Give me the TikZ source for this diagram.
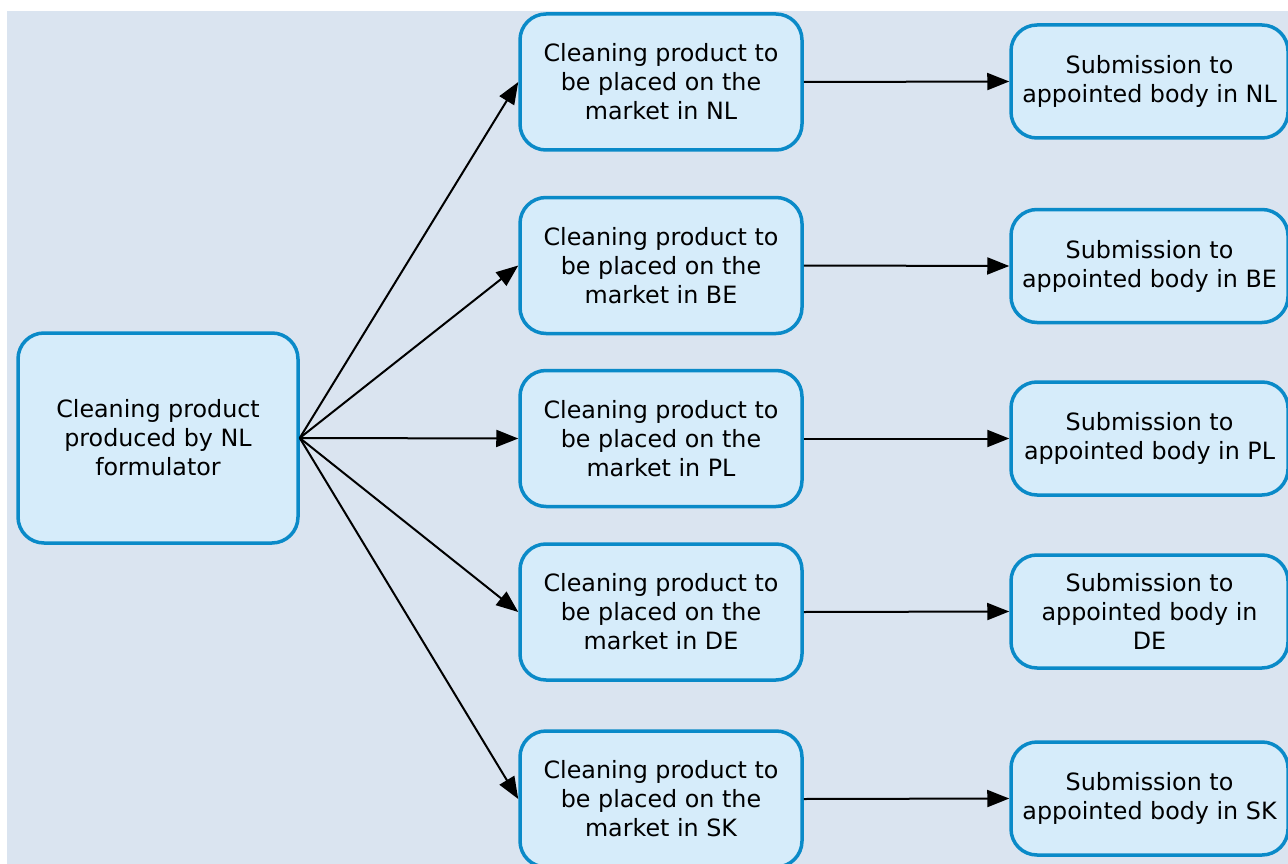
\documentclass[tikz,border=0pt]{standalone}
\usepackage{fontspec}
\setmainfont{DejaVu Sans}
\usetikzlibrary{arrows.meta}
\definecolor{bgc}{HTML}{DAE4F0}
\definecolor{boxfill}{HTML}{D6ECFA}
\definecolor{boxline}{HTML}{0A8AC8}
\begin{document}
\begin{tikzpicture}[x=1pt,y=-1pt,
  box/.style={draw=boxline, fill=boxfill, line width=3.5pt, rounded corners=26pt,
    align=center, inner sep=0pt, font=\fontsize{23.8}{29}\selectfont, text=black},
  midbox/.style={box, minimum width=282pt, minimum height=136pt},
  rbox/.style={box, minimum width=277pt, minimum height=113pt},
  conn/.style={-{Triangle[length=22pt,width=17pt]}, line width=2pt, black}]
\useasboundingbox (0,0) rectangle (1288,864);
\fill[white] (0,0) rectangle (1288,864);
\fill[bgc] (7,11) rectangle (1288,864);

\node[box, minimum width=280pt, minimum height=210pt] (src) at (158,438)
  {Cleaning product\\produced by NL\\formulator};

\node[midbox] (m1) at (661,82) {Cleaning product to\\be placed on the\\market in NL};
\node[midbox] (m2) at (661,265.5) {Cleaning product to\\be placed on the\\market in BE};
\node[midbox] (m3) at (661,438.5) {Cleaning product to\\be placed on the\\market in PL};
\node[midbox] (m4) at (661,612) {Cleaning product to\\be placed on the\\market in DE};
\node[midbox] (m5) at (661,799) {Cleaning product to\\be placed on the\\market in SK};

\node[rbox] (r1) at (1149.5,81.5) {Submission to\\appointed body in NL};
\node[rbox] (r2) at (1149.5,266) {Submission to\\appointed body in BE};
\node[rbox] (r3) at (1149.5,438.5) {Submission to\\appointed body in PL};
\node[rbox] (r4) at (1149.5,611.5) {Submission to\\appointed body in\\DE};
\node[rbox] (r5) at (1149.5,798.5) {Submission to\\appointed body in SK};

\foreach \i in {1,...,5} {
  \draw[conn] (src.east) -- (m\i.west);
  \draw[conn] (m\i.east) -- (r\i.west);
}
\end{tikzpicture}
\end{document}
